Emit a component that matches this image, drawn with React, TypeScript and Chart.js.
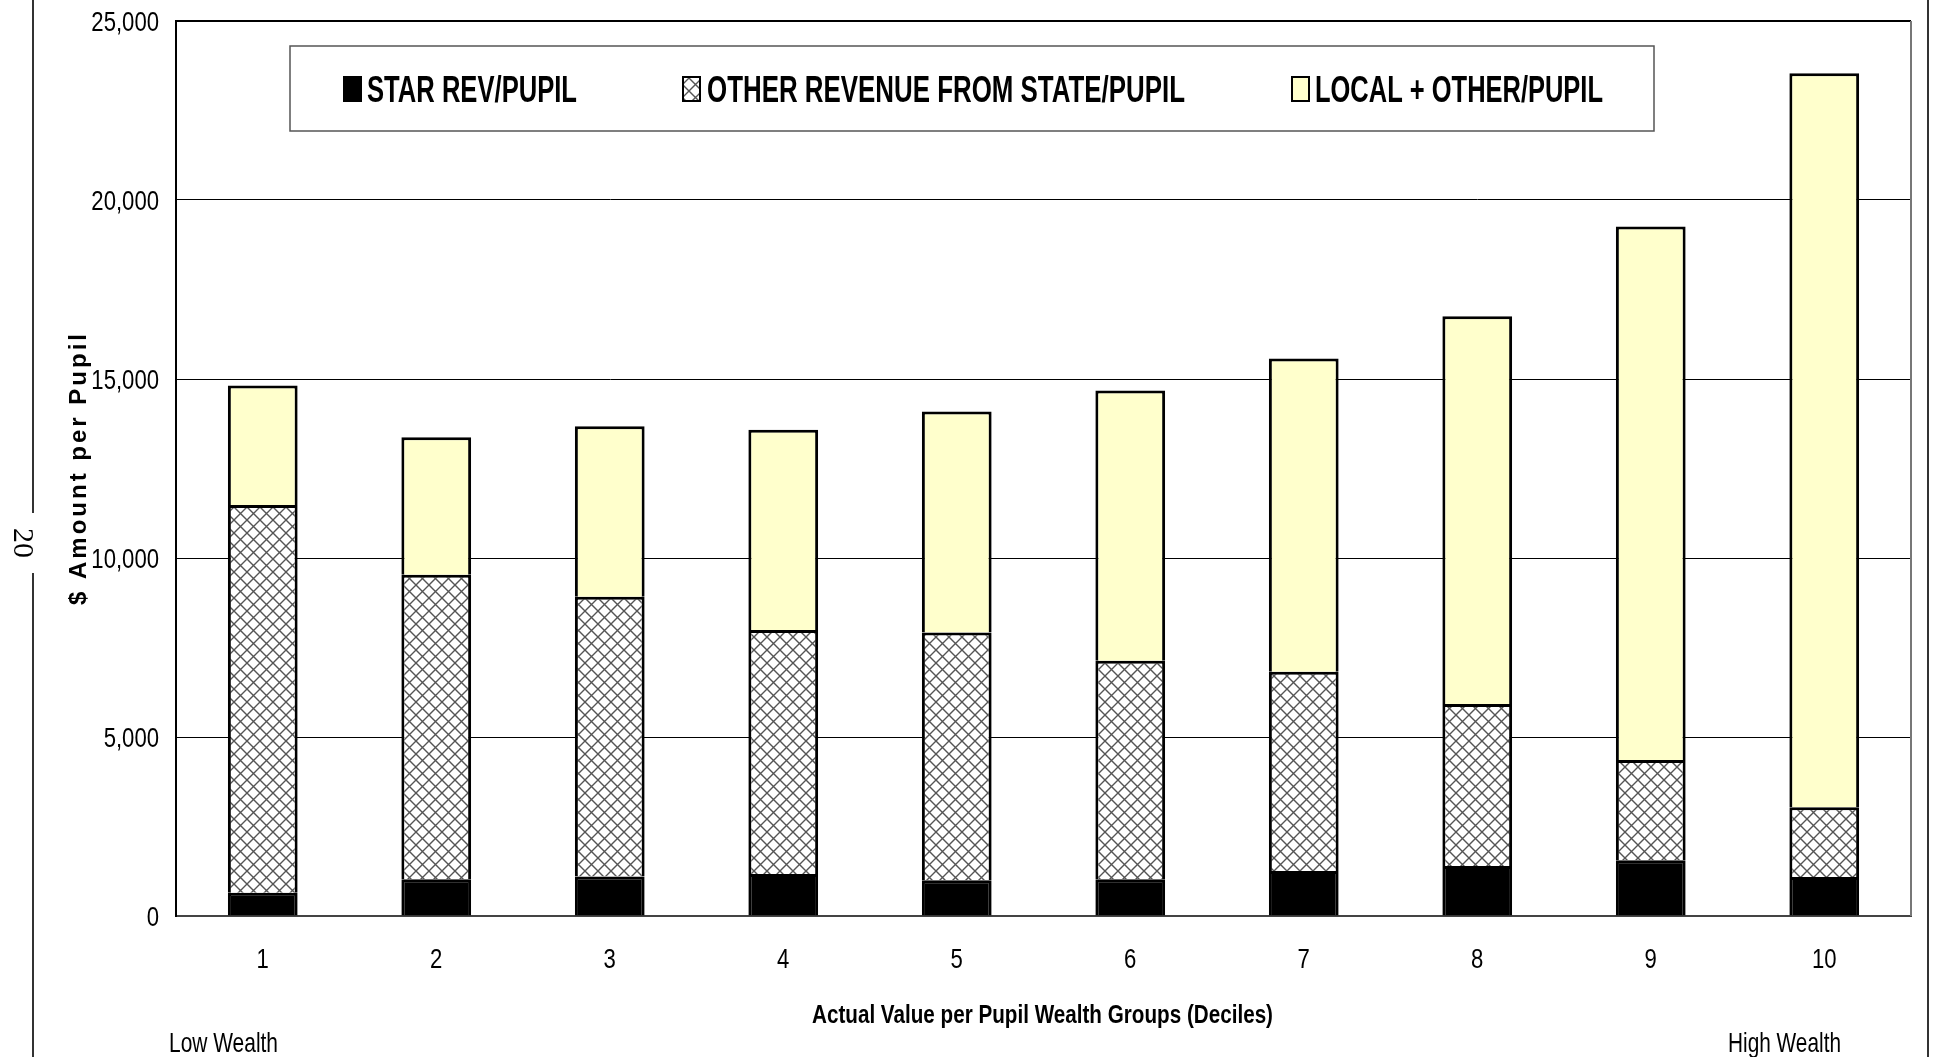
import React, { useEffect, useRef } from "react";
import { Chart, registerables } from "chart.js";
Chart.register(...registerables);

const categories = ["1", "2", "3", "4", "5", "6", "7", "8", "9", "10"];
const starRev = [650, 1030, 1100, 1170, 1000, 1030, 1260, 1400, 1560, 1090];
const otherState = [10830, 8500, 7820, 6820, 6920, 6100, 5560, 4520, 2800, 1950];
const localOther = [3340, 3840, 4760, 5590, 6170, 7550, 8750, 10830, 14900, 20500];
const seriesNames = ["STAR REV/PUPIL", "OTHER REVENUE FROM STATE/PUPIL", "LOCAL + OTHER/PUPIL"];
const yTicks = [0, 5000, 10000, 15000, 20000, 25000];
const xTitle = "Actual Value per Pupil Wealth Groups (Deciles)";
const yTitle = "$ Amount per Pupil";
const lowLabel = "Low Wealth";
const highLabel = "High Wealth";
const pageNumber = "20";

const SANS = '"Liberation Sans", Arial, sans-serif';
const YELLOW = "#FFFFCC";
const TICK_FX = 0.79;

function makeHatch(): CanvasPattern | string {
  const s = 13;
  const c = document.createElement("canvas");
  c.width = s;
  c.height = s;
  const g = c.getContext("2d");
  if (!g) return "#ccc";
  g.fillStyle = "#fff";
  g.fillRect(0, 0, s, s);
  g.strokeStyle = "#555";
  g.lineWidth = 1.4;
  g.beginPath();
  g.moveTo(0, 0);
  g.lineTo(s, s);
  g.moveTo(s, 0);
  g.lineTo(0, s);
  g.stroke();
  return g.createPattern(c, "repeat") || "#ccc";
}

// draw text horizontally condensed by factor fx
function narrowText(ctx: CanvasRenderingContext2D, text: string, x: number, y: number, font: string, align: CanvasTextAlign, fx: number) {
  ctx.save();
  ctx.font = font;
  ctx.textAlign = align;
  ctx.textBaseline = "alphabetic";
  ctx.translate(x, y);
  ctx.scale(fx, 1);
  ctx.fillText(text, 0, 0);
  ctx.restore();
}

// draw text left-aligned, fitted into a given width
function fitText(ctx: CanvasRenderingContext2D, text: string, x0: number, x1: number, baseline: number, font: string) {
  ctx.save();
  ctx.font = font;
  const w = ctx.measureText(text).width;
  ctx.restore();
  narrowText(ctx, text, x0, baseline, font, "left", (x1 - x0) / w);
}

export default function App() {
  const ref = useRef<HTMLCanvasElement | null>(null);

  useEffect(() => {
    const canvas = ref.current;
    if (!canvas) return;
    const hatch = makeHatch();
    const fills: any[] = ["#000", hatch, YELLOW];

    const decorPlugin = {
      id: "decor",
      afterDraw(chart: any) {
        const ctx: CanvasRenderingContext2D = chart.ctx;
        const area = chart.chartArea;
        ctx.save();
        ctx.fillStyle = "#000";

        // plot frame top/right
        ctx.strokeStyle = "#000";
        ctx.lineWidth = 2;
        ctx.beginPath();
        ctx.moveTo(area.left, area.top);
        ctx.lineTo(area.right, area.top);
        ctx.stroke();
        ctx.strokeStyle = "#777";
        ctx.beginPath();
        ctx.moveTo(area.right, area.top);
        ctx.lineTo(area.right, area.bottom);
        ctx.stroke();

        // tick labels (condensed) from the library's scales
        const ys = chart.scales.y;
        const tickFont = `28px ${SANS}`;
        ys.ticks.forEach((t: any, i: number) => {
          const py = ys.getPixelForTick(i);
          narrowText(ctx, Number(t.value).toLocaleString("en-US"), area.left - 17, py + 10, tickFont, "right", TICK_FX);
        });
        const xs = chart.scales.x;
        xs.ticks.forEach((t: any, i: number) => {
          const px = xs.getPixelForTick(i);
          narrowText(ctx, String(xs.getLabelForValue(t.value)), px, 968, tickFont, "center", TICK_FX);
        });

        // legend box
        const lx = 290, ly = 46, lw = 1364, lh = 85;
        ctx.fillStyle = "#fff";
        ctx.fillRect(lx, ly, lw, lh);
        ctx.strokeStyle = "#555";
        ctx.lineWidth = 1.5;
        ctx.strokeRect(lx, ly, lw, lh);
        const swatchX = [343, 682, 1291];
        const textSpan = [[367, 577], [707, 1185], [1315, 1603]];
        seriesNames.forEach((name, i) => {
          const sx = swatchX[i];
          ctx.fillStyle = fills[i];
          ctx.fillRect(sx, 76, 19, 26);
          ctx.strokeStyle = "#000";
          ctx.lineWidth = 2;
          ctx.strokeRect(sx + 1, 77, 17, 24);
          ctx.fillStyle = "#000";
          fitText(ctx, name, textSpan[i][0], textSpan[i][1], 102, `bold 36px ${SANS}`);
        });

        // x title
        ctx.fillStyle = "#000";
        fitText(ctx, xTitle, 812, 1273, 1023, `bold 26px ${SANS}`);

        // low / high wealth
        fitText(ctx, lowLabel, 169, 278, 1052, `28px ${SANS}`);
        fitText(ctx, highLabel, 1728, 1841, 1052, `28px ${SANS}`);

        // y title
        ctx.save();
        ctx.translate(79, 468);
        ctx.rotate(-Math.PI / 2);
        ctx.font = `bold 24px ${SANS}`;
        (ctx as any).letterSpacing = "3px";
        ctx.textAlign = "center";
        ctx.textBaseline = "middle";
        ctx.fillText(yTitle, 0, 0);
        ctx.restore();

        // page frame lines
        ctx.strokeStyle = "#333";
        ctx.lineWidth = 2;
        ctx.beginPath();
        ctx.moveTo(33, 0);
        ctx.lineTo(33, 513);
        ctx.moveTo(33, 573);
        ctx.lineTo(33, 1057);
        ctx.moveTo(1928, 0);
        ctx.lineTo(1928, 1057);
        ctx.stroke();

        // page number
        ctx.save();
        ctx.translate(22, 543);
        ctx.rotate(Math.PI / 2);
        ctx.font = `30px "Liberation Serif", "DejaVu Serif", serif`;
        ctx.textAlign = "center";
        ctx.textBaseline = "middle";
        ctx.fillStyle = "#000";
        ctx.fillText(pageNumber, 0, 0);
        ctx.restore();

        ctx.restore();
      },
    };

    const border = { top: 3, left: 3, right: 3, bottom: 0 };
    const common = { borderColor: "#000", borderWidth: border, borderSkipped: false as any, barPercentage: 0.402, categoryPercentage: 1 };
    const chart = new Chart(canvas, {
      type: "bar",
      data: {
        labels: categories,
        datasets: [
          { label: seriesNames[0], data: starRev, backgroundColor: fills[0], ...common },
          { label: seriesNames[1], data: otherState, backgroundColor: fills[1], ...common },
          { label: seriesNames[2], data: localOther, backgroundColor: fills[2], ...common },
        ],
      },
      options: {
        animation: false,
        responsive: false,
        maintainAspectRatio: false,
        devicePixelRatio: 1,
        layout: { padding: { top: 21, right: 23, left: 0, bottom: 0 } },
        plugins: { legend: { display: false }, tooltip: { enabled: false }, title: { display: false } },
        scales: {
          x: {
            stacked: true,
            grid: { display: false, drawTicks: false },
            border: { display: true, color: "#444", width: 2 },
            ticks: { display: false },
            afterFit: (s: any) => { s.height = 141; },
          },
          y: {
            stacked: true,
            min: 0,
            max: 25000,
            afterBuildTicks: (s: any) => { s.ticks = yTicks.map((v) => ({ value: v })); },
            ticks: { display: false },
            grid: { color: "#000", lineWidth: 1, drawTicks: false },
            border: { display: true, color: "#000", width: 2 },
            afterFit: (s: any) => { s.width = 176; },
          },
        },
      },
      plugins: [decorPlugin],
    });
    return () => chart.destroy();
  }, []);

  return (
    <div style={{ position: "absolute", left: 0, top: 0, width: 1934, height: 1057, overflow: "hidden", background: "#fff" }}>
      <canvas ref={ref} width={1934} height={1057} style={{ display: "block", width: 1934, height: 1057 }} />
    </div>
  );
}
